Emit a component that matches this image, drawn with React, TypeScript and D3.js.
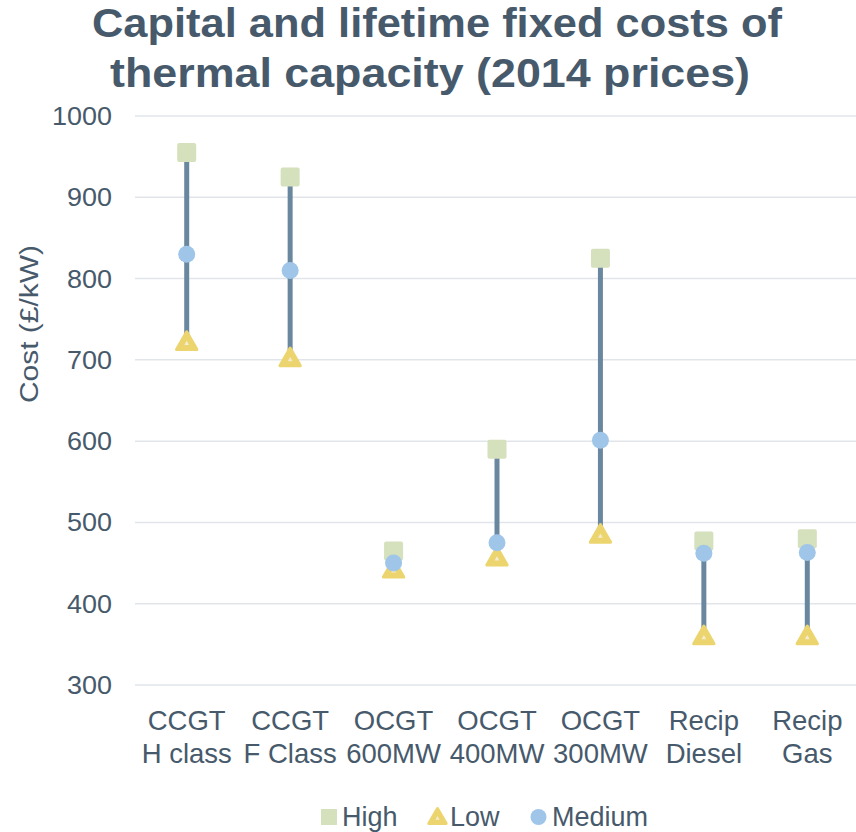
import React from "react";
import * as d3 from "d3";

const categories = [
  ["CCGT", "H class"],
  ["CCGT", "F Class"],
  ["OCGT", "600MW"],
  ["OCGT", "400MW"],
  ["OCGT", "300MW"],
  ["Recip", "Diesel"],
  ["Recip", "Gas"],
];
const highValues = [955, 925, 465, 590, 825, 477, 480];
const lowValues = [720, 700, 440, 455, 483, 358, 358];
const mediumValues = [830, 810, 450, 475, 601, 462, 463];
const yTicks = [300, 400, 500, 600, 700, 800, 900, 1000];
const titleLines = ["Capital and lifetime fixed costs of", "thermal capacity (2014 prices)"];

const TEXT = "#475a6c";
const HIGH = "#d5e0bc";
const LOW = "#ecd46e";
const MED = "#9fc5e9";
const LINE = "#6a87a0";
const GRID = "#e1e5ea";
const FONT = "'Liberation Sans', Arial, sans-serif";

export default function App() {
  const W = 856, H = 832;
  const left = 135, right = 859, top = 116, bottom = 685;
  const x = d3.scaleBand<number>().domain(d3.range(categories.length)).range([left, right]);
  const y = d3.scaleLinear().domain([300, 1000]).range([bottom, top]);
  const cx = (i: number) => (x(i) as number) + x.bandwidth() / 2;
  const tri = d3.symbol().type(d3.symbolTriangle).size(180)();
  const triSmall = d3.symbol().type(d3.symbolTriangle).size(10)();

  return (
    <svg width={W} height={H} style={{ position: "absolute", left: 0, top: 0 }} fontFamily={FONT}>
      <rect width={W} height={H} fill="#fff" />
      <text x={437} y={37} textAnchor="middle" fontSize={40} fontWeight="bold" fill={TEXT} textLength={690} lengthAdjust="spacingAndGlyphs">
        {titleLines[0]}
      </text>
      <text x={430} y={87} textAnchor="middle" fontSize={40} fontWeight="bold" fill={TEXT} textLength={640} lengthAdjust="spacingAndGlyphs">
        {titleLines[1]}
      </text>
      {yTicks.map((t) => (
        <g key={t}>
          <line x1={left} x2={right} y1={y(t)} y2={y(t)} stroke={GRID} strokeWidth={1.5} />
          <text x={112} y={y(t) + 9} textAnchor="end" fontSize={25} fill={TEXT} textLength={String(t).length * 15} lengthAdjust="spacingAndGlyphs">
            {t}
          </text>
        </g>
      ))}
      <text
        transform={`translate(38,324) rotate(-90)`}
        textAnchor="middle"
        fontSize={26}
        fill={TEXT}
        textLength={158}
        lengthAdjust="spacingAndGlyphs"
      >
        Cost (£/kW)
      </text>
      {categories.map((c, i) => (
        <g key={i}>
          <text x={cx(i)} y={730} textAnchor="middle" fontSize={27.5} fill={TEXT}>
            {c[0]}
          </text>
          <text x={cx(i)} y={763} textAnchor="middle" fontSize={27.5} fill={TEXT}>
            {c[1]}
          </text>
        </g>
      ))}
      {categories.map((_, i) => (
        <line key={"l" + i} x1={cx(i)} x2={cx(i)} y1={y(highValues[i])} y2={y(lowValues[i])} stroke={LINE} strokeWidth={5} />
      ))}
      {highValues.map((v, i) => (
        <rect key={"h" + i} x={cx(i) - 9.5} y={y(v) - 9.5} width={19} height={19} rx={2} fill={HIGH} />
      ))}
      {lowValues.map((v, i) => (
        <g key={"lo" + i} transform={`translate(${cx(i)},${y(v)})`}>
          <path d={tri as string} fill={LOW} stroke={LOW} strokeWidth={3} strokeLinejoin="round" />
          <path d={triSmall as string} fill="#f3ecd0" />
        </g>
      ))}
      {mediumValues.map((v, i) => (
        <circle key={"m" + i} cx={cx(i)} cy={y(v)} r={8.5} fill={MED} />
      ))}
      <g fontSize={27} fill={TEXT}>
        <rect x={321} y={809} width={16} height={16} fill={HIGH} />
        <text x={342} y={826}>High</text>
        <g transform="translate(437.5,818.5)">
          <path d={d3.symbol().type(d3.symbolTriangle).size(130)() as string} fill={LOW} stroke={LOW} strokeWidth={3} strokeLinejoin="round" />
          <path d={d3.symbol().type(d3.symbolTriangle).size(8)() as string} fill="#f3ecd0" />
        </g>
        <text x={450} y={826}>Low</text>
        <circle cx={538.5} cy={817} r={8} fill={MED} />
        <text x={552} y={826}>Medium</text>
      </g>
    </svg>
  );
}
